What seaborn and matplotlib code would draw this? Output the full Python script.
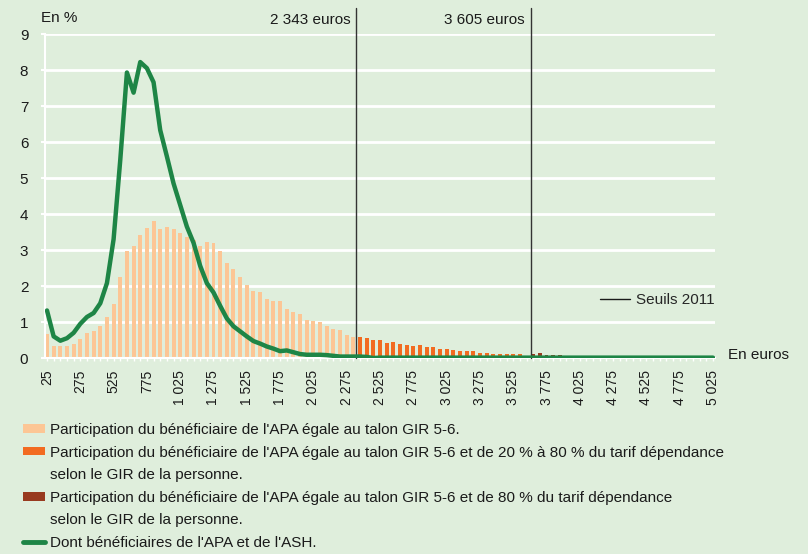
import numpy as np
import pandas as pd
import matplotlib
matplotlib.use("Agg")
import matplotlib.pyplot as plt
import matplotlib.patches as mpatches
from matplotlib.lines import Line2D
import seaborn as sns

# Income bins (euros), one bar every 50 euros
euros = np.arange(25, 5026, 50)

# Share of beneficiaries (%) by type of participation
light_vals = [0.66, 0.32, 0.32, 0.32, 0.38, 0.54, 0.70, 0.76, 0.88, 1.13,
              1.49, 2.24, 2.98, 3.10, 3.41, 3.62, 3.80, 3.57, 3.63, 3.57,
              3.47, 3.36, 3.28, 3.11, 3.22, 3.20, 2.98, 2.64, 2.48, 2.25,
              2.03, 1.87, 1.83, 1.63, 1.57, 1.58, 1.36, 1.29, 1.23, 1.06,
              1.03, 1.01, 0.90, 0.81, 0.77, 0.63, 0.59]
orange_vals = [0.58, 0.55, 0.51, 0.49, 0.43, 0.44, 0.38, 0.36, 0.34, 0.36,
               0.30, 0.30, 0.24, 0.24, 0.22, 0.19, 0.19, 0.19, 0.15, 0.15,
               0.12, 0.10, 0.10, 0.10, 0.12, 0.06]
dark_vals = [0.10, 0.14, 0.08, 0.08, 0.08, 0.06, 0.06, 0.06, 0.04, 0.06,
             0.03, 0.03, 0.03, 0.02, 0.01, 0.01, 0.01, 0.01, 0.01, 0.01,
             0.01, 0.01, 0.01, 0.0, 0.0, 0.0, 0.0, 0.0]

# APA + ASH beneficiaries (%)
ash_vals = [1.32, 0.60, 0.48, 0.55, 0.70, 0.95, 1.14, 1.25, 1.52, 2.08,
            3.30, 5.50, 7.93, 7.37, 8.22, 8.05, 7.66, 6.33, 5.60, 4.85,
            4.25, 3.65, 3.20, 2.56, 2.08, 1.82, 1.45, 1.10, 0.88, 0.74,
            0.60, 0.47, 0.40, 0.32, 0.26, 0.19, 0.21, 0.16, 0.11, 0.09,
            0.09, 0.09, 0.08, 0.06, 0.04, 0.04, 0.04, 0.04, 0.03, 0.00] + [0.01] * 51

# Thresholds 2011 (drawn where the source places them)
seuils_x = [2343, 3655]
seuils_labels = ["2 343 euros", "3 605 euros"]

tick_vals = euros[::5]
tick_labels = [f"{v:,}".replace(",", " ") for v in tick_vals]

legend_labels = [
    "Participation du bénéficiaire de l'APA égale au talon GIR 5-6.",
    "Participation du bénéficiaire de l'APA égale au talon GIR 5-6 et de 20 % à 80 % du tarif dépendance",
    "selon le GIR de la personne.",
    "Participation du bénéficiaire de l'APA égale au talon GIR 5-6 et de 80 % du tarif dépendance",
    "selon le GIR de la personne.",
    "Dont bénéficiaires de l'APA et de l'ASH.",
]

types = ["talon", "20-80", "80"]
colors = {"talon": "#FCC695", "20-80": "#F26B21", "80": "#983A1F"}
green = "#1E8546"
bg = "#DFEEDC"
ink = "#1a1a1a"

df = pd.DataFrame({
    "euros": euros,
    "part": light_vals + orange_vals + dark_vals,
    "type": ["talon"] * len(light_vals) + ["20-80"] * len(orange_vals) + ["80"] * len(dark_vals),
})

sns.set_theme(style="white")
plt.rcParams["font.family"] = ["Liberation Sans", "DejaVu Sans"]

fig = plt.figure(figsize=(8.08, 5.54), dpi=100, facecolor=bg)
ax = fig.add_axes([45 / 808, 1 - 358 / 554, 670 / 808, 324 / 554], facecolor=bg)

sns.barplot(data=df, x="euros", y="part", hue="type", hue_order=types,
            palette=colors, saturation=1, native_scale=True, dodge=False,
            width=0.6, errorbar=None, legend=False, ax=ax, zorder=2,
            linewidth=0, edgecolor="none")
sns.lineplot(x=euros, y=ash_vals, color=green, linewidth=3.2, ax=ax,
             legend=False, zorder=5)

for x, lab in zip(seuils_x, seuils_labels):
    ax.axvline(x, ymin=0, ymax=(358 - 8) / 324, color="#333333", lw=1,
               clip_on=False, zorder=4)
    ax.annotate(lab, xy=(x, (358 - 20) / 324), xycoords=("data", "axes fraction"),
                xytext=(-4, 0), textcoords="offset points", ha="right",
                va="center", fontsize=11, color=ink, annotation_clip=False)

ax.set_xlim(25 - 0.3 * 50, 5025 + 0.3 * 50)
ax.set_ylim(0, 9)
ax.set_yticks(range(0, 10))
ax.set_xticks(tick_vals)
ax.set_xticklabels(tick_labels, rotation=90, fontsize=10)
ax.set_xticks(euros, minor=True)
ax.set_xlabel("")
ax.set_ylabel("")

ax.set_axisbelow(True)
ax.grid(axis="y", color="white", lw=2)
ax.grid(axis="x", visible=False)
for s in ["top", "right"]:
    ax.spines[s].set_visible(False)
for s in ["left", "bottom"]:
    ax.spines[s].set_color("white")
    ax.spines[s].set_linewidth(1.5)
ax.tick_params(axis="y", which="both", colors="white", length=3, width=1.5,
               labelcolor=ink, labelsize=11, pad=9, left=True)
ax.tick_params(axis="x", which="both", colors="white", length=2.5, width=1,
               labelcolor=ink, pad=6, bottom=True)

fig.text(41 / 808, 1 - 18 / 554, "En %", fontsize=11, va="center", ha="left", color=ink)
fig.text(728 / 808, 1 - 355 / 554, "En euros", fontsize=11, va="center", ha="left", color=ink)

# "Seuils 2011" key inside the plot
ax.legend(handles=[Line2D([], [], color=ink, lw=1)], labels=["Seuils 2011"],
          loc="center right", bbox_to_anchor=(1.0, (358 - 300) / 324),
          frameon=False, fontsize=11, handlelength=1.9, handletextpad=0.45,
          borderaxespad=0, borderpad=0)

handles = [
    mpatches.Patch(facecolor=colors["talon"], linewidth=0),
    mpatches.Patch(facecolor=colors["20-80"], linewidth=0),
    mpatches.Patch(visible=False),
    mpatches.Patch(facecolor=colors["80"], linewidth=0),
    mpatches.Patch(visible=False),
    Line2D([], [], color=green, lw=3.5),
]
leg = fig.legend(handles, legend_labels, loc="upper left",
                 bbox_to_anchor=(23 / 808, 1 - 423 / 554), frameon=False,
                 fontsize=11, handlelength=1.45, handleheight=0.5,
                 handletextpad=0.3, labelspacing=0.56, borderaxespad=0,
                 borderpad=0)
for t in leg.get_texts():
    t.set_color(ink)

fig.savefig("out.png", dpi=100, facecolor=bg)
